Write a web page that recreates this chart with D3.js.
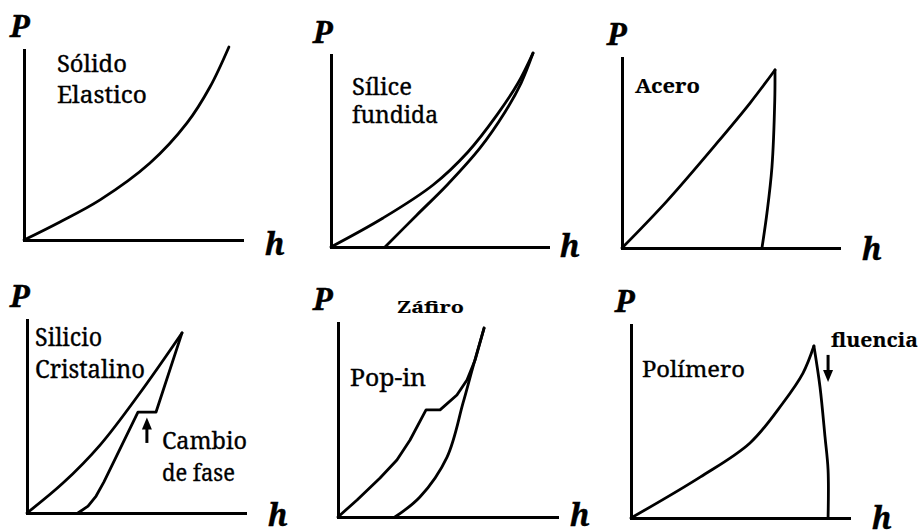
<!DOCTYPE html>
<html>
<head>
<meta charset="utf-8">
<script src="https://cdn.jsdelivr.net/npm/d3@7"></script>
<style>
  html, body { margin: 0; padding: 0; background: #fff; }
  svg { display: block; }
</style>
</head>
<body>
<svg id="chart" width="922" height="532"></svg>
<script>
// Load P against penetration depth h, both in relative units (0–100) per panel.

// Elastic solid: loading and unloading follow the same curve
const elasticLoad = [[0,0],[16.5,9.5],[34.9,21.1],[57.8,40.5],[74.8,61.6],[85.3,80.5],[94.0,101.6]];

// Fused silica
const silicaLoad   = [[0,0],[24.0,15.1],[47.0,32.3],[63.1,49.5],[76.5,68.8],[86.2,85.4],[93.1,101.0]];
const silicaUnload = [[24.9,0],[39.6,16.7],[53.5,32.3],[68.7,51.6],[80.2,70.3],[87.6,85.4],[93.1,101.0]];

// Steel
const steelLoad   = [[0,0],[20.7,24.7],[43.8,55.3],[59.0,76.3],[70.5,93.7]];
const steelUnload = [[70.5,93.7],[70.4,77.9],[69.1,42.6],[66.8,18.4],[64.5,0]];

// Crystalline silicon (phase change on unloading)
const siliconLoad   = [[0,0],[16.5,15.5],[33.5,35.2],[51.8,62.2],[71.1,93.3]];
const siliconUnload = [[71.1,93.3],[59.2,52.3],[50.9,52.3],[35.3,16.1],[31.7,8.8],[28.0,3.6],[23.4,0]];

// Sapphire (pop-in on loading)
const sapphireLoad   = [[0,0],[8.7,8.8],[19.2,20.1],[26.9,29.4],[32.9,39.7],[40.2,55.2],[46.6,55.2],[54.3,62.9],[58.9,70.6],[62.6,80.9],[66.7,97.4]];
const sapphireUnload = [[26.0,0],[37.4,10.3],[49.8,30.9],[57.1,58.8],[61.6,77.3],[66.7,97.4]];

// Polymer (yield at peak load)
const polymerLoad   = [[0,0],[31.7,21.2],[54.6,38.9],[69.7,59.6],[78.9,75.1],[83.9,89.1]];
const polymerUnload = [[83.9,89.1],[86.7,67.9],[89.0,42.0],[90.4,24.9],[90.4,0]];

// Axis names
const axisNames = ["P", "h"];

// Annotation texts
const elasticNote  = ["Sólido", "Elastico"];
const silicaNote   = ["Sílice", "fundida"];
const steelNote    = ["Acero"];
const siliconNote  = ["Silicio", "Cristalino"];
const phaseNote    = ["Cambio", "de fase"];
const sapphireName = ["Záfiro"];
const popInNote    = ["Pop-in"];
const polymerNote  = ["Polímero"];
const yieldNote    = ["fluencia"];

// Annotation anchors [h, P] and arrow spans [h, Pfrom, Pto]
const elasticNoteAt  = [15.1, 88.4];
const silicaNoteAt   = [9.7, 79.2];
const steelNoteAt    = [6.0, 81.6];
const siliconNoteAt  = [3.7, 86.5];
const phaseNoteAt    = [61.9, 33.2];
const phaseArrow     = [55.0, 36.3, 49.5];
const sapphireNameAt = [26.9, 105.2];
const popInNoteAt    = [5.5, 67.5];
const polymerNoteAt  = [5.0, 73.1];
const yieldNoteAt    = [91.7, 88.6];
const yieldArrow     = [90.4, 84.5, 70.5];

const TEXT_FONT = "\"Noto Serif\", \"DejaVu Serif\", serif";
const AXIS_FONT = "\"Noto Serif\", \"DejaVu Serif\", serif";

const panels = [
  { frame: { x: 24,  y: 240, w: 218, h: 190 }, pOff: [-14, -13], hOff: [23, 15],
    curves: [{ pts: elasticLoad, smooth: true }],
    notes: [{ lines: elasticNote, widths: [70, 90], at: elasticNoteAt, size: 24, weight: 400, lead: 31 }] },
  { frame: { x: 331, y: 247, w: 217, h: 192 }, pOff: [-18, -12], hOff: [12, 10],
    curves: [{ pts: silicaLoad, smooth: true }, { pts: silicaUnload, smooth: true }],
    notes: [{ lines: silicaNote, widths: [60, 86], at: silicaNoteAt, size: 23, weight: 400, lead: 28 }] },
  { frame: { x: 622, y: 248, w: 217, h: 190 }, pOff: [-15, -13], hOff: [23, 12],
    curves: [{ pts: steelLoad, smooth: true }, { pts: steelUnload, smooth: true }],
    notes: [{ lines: steelNote, widths: [65], at: steelNoteAt, size: 19, weight: 700, lead: 0 }] },
  { frame: { x: 27,  y: 513, w: 218, h: 193 }, pOff: [-17, -13], hOff: [23, 13],
    curves: [{ pts: siliconLoad, smooth: true }, { pts: siliconUnload, smooth: false }],
    notes: [{ lines: siliconNote, widths: [67, 110], at: siliconNoteAt, size: 25, weight: 400, lead: 32 },
            { lines: phaseNote, widths: [85, 73], at: phaseNoteAt, size: 24, weight: 400, lead: 32 }],
    arrows: [phaseArrow] },
  { frame: { x: 338, y: 517, w: 219, h: 194 }, pOff: [-25, -13], hOff: [13, 9],
    curves: [{ pts: sapphireLoad, smooth: false }, { pts: sapphireUnload, smooth: true }],
    notes: [{ lines: sapphireName, widths: [67], at: sapphireNameAt, size: 17, weight: 700, lead: 0 },
            { lines: popInNote, widths: [76], at: popInNoteAt, size: 23, weight: 400, lead: 0 }] },
  { frame: { x: 631, y: 518, w: 218, h: 193 }, pOff: [-16, -13], hOff: [23, 11],
    curves: [{ pts: polymerLoad, smooth: true }, { pts: polymerUnload, smooth: true }],
    notes: [{ lines: polymerNote, widths: [103], at: polymerNoteAt, size: 22, weight: 400, lead: 0 },
            { lines: yieldNote, widths: [87], at: yieldNoteAt, size: 20, weight: 700, lead: 0 }],
    arrows: [yieldArrow] }
];

const svg = d3.select("#chart");

panels.forEach(p => {
  const f = p.frame;
  const x = d3.scaleLinear().domain([0, 100]).range([f.x, f.x + f.w]);
  const y = d3.scaleLinear().domain([0, 100]).range([f.y, f.y - f.h]);
  const g = svg.append("g");

  // Axes: plain lines, no ticks
  const xAxis = d3.axisBottom(x).tickValues([]).tickSizeOuter(0);
  const yAxis = d3.axisLeft(y).tickValues([]).tickSizeOuter(0);
  g.append("g").attr("transform", `translate(0,${y(0)})`).call(xAxis)
    .call(s => s.select(".domain").attr("stroke", "#000").attr("stroke-width", 3).attr("stroke-linecap", "square"));
  g.append("g").attr("transform", `translate(${x(0)},0)`).call(yAxis)
    .call(s => s.select(".domain").attr("stroke", "#000").attr("stroke-width", 3).attr("stroke-linecap", "square"));

  // Axis names
  const axisName = (tx, ty, s) => g.append("text")
    .attr("x", tx).attr("y", ty)
    .style("font-family", AXIS_FONT).style("font-style", "italic").style("font-weight", "700")
    .style("font-size", "30px").attr("fill", "#000")
    .attr("stroke", "#000").attr("stroke-width", 0.4)
    .text(s);
  axisName(x(0) + p.pOff[0], y(100) + p.pOff[1], axisNames[0]);
  axisName(x(100) + p.hOff[0], y(0) + p.hOff[1], axisNames[1]);

  // Load–depth curves
  p.curves.forEach(c => {
    const line = d3.line()
      .x(d => x(d[0])).y(d => y(d[1]))
      .curve(c.smooth ? d3.curveCatmullRom.alpha(0.5) : d3.curveLinear);
    g.append("path").attr("d", line(c.pts))
      .attr("fill", "none").attr("stroke", "#000").attr("stroke-width", 2.8)
      .attr("stroke-linejoin", "round").attr("stroke-linecap", "round");
  });

  // Annotations
  p.notes.forEach(n => {
    n.lines.forEach((s, i) => {
      g.append("text")
        .attr("x", x(n.at[0])).attr("y", y(n.at[1]) + i * n.lead)
        .style("font-family", TEXT_FONT).style("font-weight", String(n.weight))
        .style("font-size", n.size + "px").attr("fill", "#000")
        .attr("stroke", "#000").attr("stroke-width", n.weight >= 700 ? 0.15 : 0.35)
        .attr("textLength", n.widths[i]).attr("lengthAdjust", "spacingAndGlyphs")
        .text(s);
    });
  });

  // Arrows
  (p.arrows || []).forEach(a => {
    const ax = x(a[0]), y0 = y(a[1]), y1 = y(a[2]);
    const dir = Math.sign(y1 - y0);
    const headLen = 12, headHalf = 5;
    g.append("line")
      .attr("x1", ax).attr("y1", y0).attr("x2", ax).attr("y2", y1 - dir * headLen * 0.8)
      .attr("stroke", "#000").attr("stroke-width", 3);
    g.append("path")
      .attr("d", `M${ax},${y1}L${ax - headHalf},${y1 - dir * headLen}L${ax + headHalf},${y1 - dir * headLen}Z`)
      .attr("fill", "#000");
  });
});
</script>
</body>
</html>
